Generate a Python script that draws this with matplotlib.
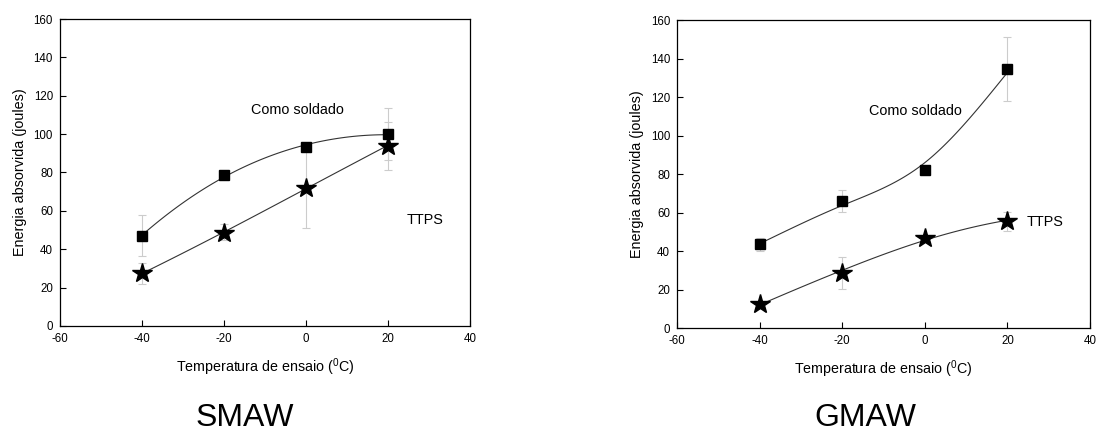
import numpy as np
import matplotlib
matplotlib.use("Agg")
import matplotlib.pyplot as plt

plt.rcParams['font.family'] = ['Liberation Sans', 'DejaVu Sans']
plt.rcParams['mathtext.fontset'] = 'custom'
plt.rcParams['mathtext.rm'] = 'Liberation Sans'
plt.rcParams['axes.unicode_minus'] = False

# temperatures (C)
temp = [-40, -20, 0, 20]

# SMAW
smaw_cs = [47, 78.5, 93.5, 100]
smaw_cs_lo = [10.5, 0, 0, 13.5]
smaw_cs_hi = [11, 0, 0, 13.5]
smaw_tt = [27.5, 48.5, 72, 94]
smaw_tt_lo = [5.5, 3.5, 21, 12.5]
smaw_tt_hi = [5.5, 4.5, 21, 12.5]

# GMAW
gmaw_cs = [43.5, 66, 82, 134.5]
gmaw_cs_lo = [3.5, 5.5, 0, 16.5]
gmaw_cs_hi = [3.5, 5.5, 0, 16.5]
gmaw_tt = [12.5, 28.5, 47, 55.5]
gmaw_tt_lo = [0, 8, 0, 5]
gmaw_tt_hi = [0, 8.5, 0, 5]


def smooth_curve(x, y, order, lam, step=0.5):
    # penalised smoothing curve through the points
    grid = np.arange(min(x), max(x) + step / 2, step)
    n = len(grid)
    w = np.zeros(n)
    target = np.zeros(n)
    for xi, yi in zip(x, y):
        k = int(round((xi - grid[0]) / step))
        w[k] = 1.0
        target[k] = yi
    d = np.diff(np.eye(n), order, axis=0)
    z = np.linalg.solve(np.diag(w) + lam * d.T @ d, w * target)
    return grid, z


# (name, axes rect, title x px, series..., smoothing for each curve)
panels = [
    ("SMAW", [0.0547, 0.2454, 0.374, 0.7106], 245,
     smaw_cs, smaw_cs_lo, smaw_cs_hi, (3, 1e7),
     smaw_tt, smaw_tt_lo, smaw_tt_hi, (3, 1e7)),
    ("GMAW", [0.6177, 0.2407, 0.3768, 0.713], 865,
     gmaw_cs, gmaw_cs_lo, gmaw_cs_hi, (2, 3000),
     gmaw_tt, gmaw_tt_lo, gmaw_tt_hi, (3, 1e7)),
]

fig = plt.figure(figsize=(10.96, 4.32), dpi=100)

for name, rect, tx, cs, cs_lo, cs_hi, sm_cs, tt, tt_lo, tt_hi, sm_tt in panels:
    ax = fig.add_axes(rect)

    # error bars (light gray)
    ax.errorbar(temp, cs, yerr=[cs_lo, cs_hi], fmt='none', ecolor='0.8',
                elinewidth=0.8, capsize=3, capthick=0.8, zorder=1)
    ax.errorbar(temp, tt, yerr=[tt_lo, tt_hi], fmt='none', ecolor='0.8',
                elinewidth=0.8, capsize=3, capthick=0.8, zorder=1)

    # smoothed curves
    for y, sm in ((cs, sm_cs), (tt, sm_tt)):
        gx, gy = smooth_curve(temp, y, *sm)
        ax.plot(gx, gy, color='0.2', lw=0.8, zorder=2)

    ax.plot(temp, cs, 's', color='black', ms=7, zorder=3)
    ax.plot(temp, tt, '*', color='black', ms=15, zorder=3)

    ax.text(-13.5, 112.5, "Como soldado", fontsize=10.4, va='center', ha='left')
    ax.text(24.6, 55, "TTPS", fontsize=10.4, va='center', ha='left')

    ax.set_xlim(-60, 40)
    ax.set_ylim(0, 160)
    ax.set_xticks(range(-60, 41, 20))
    ax.set_yticks(range(0, 161, 20))
    ax.tick_params(direction='in', labelsize=8.3, length=4, width=0.8, pad=5)
    for s in ax.spines.values():
        s.set_linewidth(0.9)
    ax.set_xlabel(r"Temperatura de ensaio ($^{0}$C)", fontsize=10.3, labelpad=8)
    ax.set_ylabel("Energia absorvida (joules)", fontsize=10.4, labelpad=5)

    fig.text(tx / 1096, 1 - 418 / 432, name, fontsize=23, ha='center', va='center')

fig.savefig("out.png", dpi=100)
